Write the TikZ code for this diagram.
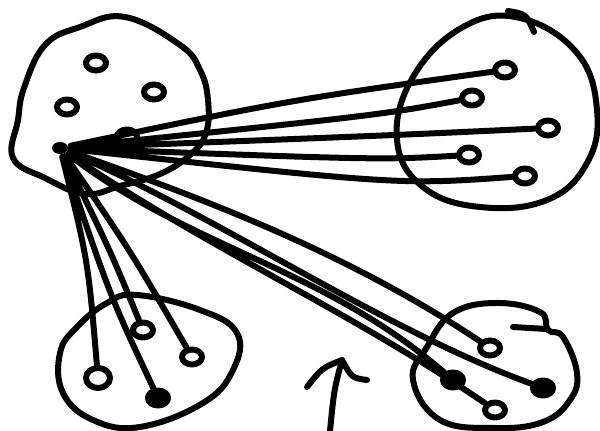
\documentclass[tikz,border=0pt]{standalone}
\usetikzlibrary{shapes.geometric}

\begin{document}
\begin{tikzpicture}[x=0.5pt,y=-0.5pt,line width=3pt,line cap=round,line join=round,
    dot/.style={ellipse,draw,inner sep=0pt,minimum width=10pt,minimum height=7.5pt},
    blot/.style={dot,fill},
    blob/.style={smooth cycle,tension=0.7}]
  \useasboundingbox (0,0) rectangle (600,431);

  % the four groups
  \draw plot[blob] coordinates {(125,17) (180,45) (200,70) (208,100) (206,133) (190,155)
      (160,174) (120,186) (85,194) (45,178) (13,158) (18,120) (24,88) (45,45) (80,27)};
  \draw plot[blob] coordinates {(413,77) (463,27) (520,18) (577,53) (597,110) (587,163)
      (547,200) (480,207) (423,187) (397,140)};
  \draw (508,11) .. controls (526,14) .. (534,32);
  \draw plot[blob] coordinates {(137,295) (200,310) (237,333) (233,370) (203,403) (140,427)
      (93,420) (63,393) (60,353) (77,327) (107,303)};
  \draw plot[blob] coordinates {(453,313) (497,303) (540,312) (548,330) (563,337) (577,373)
      (570,400) (543,422) (495,428) (440,420) (413,380) (427,347)};
  \draw (513,327) -- (546,329);

  % members
  \node[ellipse,fill,inner sep=0pt,minimum width=8pt,minimum height=6pt] (hub) at (60,148) {};
  \node[dot] (l1) at (96,63) {};
  \node[dot] (l2) at (154,92) {};
  \node[dot] (l3) at (67,107) {};
  \node[dot] (l4) at (127,137) {};

  \node[dot] (t1) at (505,70) {};
  \node[dot] (t2) at (472,98) {};
  \node[dot] (t3) at (548,128) {};
  \node[dot] (t4) at (469,155) {};
  \node[dot] (t5) at (525,176) {};

  \node[dot,minimum width=12pt,minimum height=10pt] (b1) at (98,378) {};
  \node[dot] (b2) at (143,330) {};
  \node[dot] (b3) at (192,357) {};
  \node[blot] (b4) at (158,398) {};

  \node[dot] (r1) at (490,348) {};
  \node[blot] (r2) at (543,388) {};
  \node[dot] (r3) at (495,410) {};
  \node[blot] (r4) at (453,380) {};

  % links
  \draw (hub) .. controls (290,100) .. (t1)
        (hub) .. controls (380,115) .. (t2)
        (hub) .. controls (400,135) .. (t3)
        (hub) .. controls (380,160) .. (t4)
        (hub) .. controls (400,185) .. (t5);
  \draw (hub) .. controls (88,260) .. (b1)
        (hub) .. controls (110,250) .. (b2)
        (hub) .. controls (130,250) .. (b3)
        (hub) .. controls (110,296) .. (b4);
  \draw (hub) .. controls (202,198) and (348,253) .. (r1)
        (hub) .. controls (221,218) and (382,329) .. (r2)
        (hub) .. controls (205,247) and (350,311) .. (r3)
        (hub) .. controls (191,249) and (322,267) .. (r4);

  % arrow
  \coordinate (tip) at (342,360);
  \draw (307,387) .. controls (322,368) .. (tip) .. controls (352,378) .. (367,380);
  \draw (330,431) .. controls (334,390) .. (tip);
\end{tikzpicture}
\end{document}
